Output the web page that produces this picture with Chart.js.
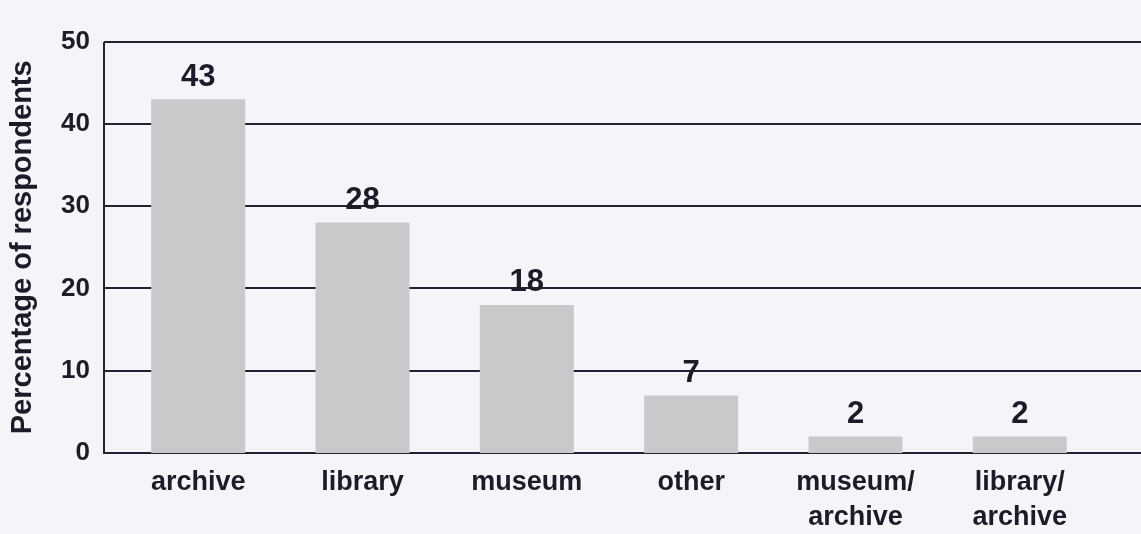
<!DOCTYPE html>
<html>
<head>
<meta charset="utf-8">
<script src="https://cdn.jsdelivr.net/npm/chart.js@4/dist/chart.umd.min.js"></script>
<style>
  html, body { margin: 0; padding: 0; background: #f4f5f8; }
  #wrap { width: 1141px; height: 534px; }
</style>
</head>
<body>
<div id="wrap"><canvas id="myChart"></canvas></div>
<script>
const categories = ["archive", "library", "museum", "other", ["museum/", "archive"], ["library/", "archive"]];
const percentages = [43, 28, 18, 7, 2, 2];
const yTicks = [0, 10, 20, 30, 40, 50];

const ink = "#1c1c28";
const font = "'Liberation Sans', Arial, sans-serif";

// horizontal rules + left axis, drawn under the bars so the bars cut them
const rules = {
  id: "rules",
  beforeDatasetsDraw(chart) {
    const { ctx, scales: { y }, width } = chart;
    const axisX = 104;
    ctx.save();
    ctx.strokeStyle = "#222230";
    ctx.lineWidth = 2;
    yTicks.forEach((v) => {
      const py = Math.round(y.getPixelForValue(v));
      ctx.beginPath();
      ctx.moveTo(axisX, py);
      ctx.lineTo(width, py);
      ctx.stroke();
    });
    ctx.beginPath();
    ctx.moveTo(axisX, Math.round(y.getPixelForValue(50)));
    ctx.lineTo(axisX, Math.round(y.getPixelForValue(0)) + 1);
    ctx.stroke();
    ctx.restore();
  },
};

// value printed above each bar
const valueLabels = {
  id: "valueLabels",
  afterDatasetsDraw(chart) {
    const { ctx } = chart;
    const meta = chart.getDatasetMeta(0);
    ctx.save();
    ctx.font = "bold 31px " + font;
    ctx.fillStyle = ink;
    ctx.textAlign = "center";
    ctx.textBaseline = "middle";
    meta.data.forEach((bar, i) => {
      ctx.fillText(String(percentages[i]), bar.x, bar.y - 22);
    });
    ctx.restore();
  },
};

const canvas = document.querySelector("canvas#myChart");
const chart = new Chart(canvas, {
  type: "bar",
  data: {
    labels: categories,
    datasets: [
      {
        label: "Percentage of respondents",
        data: percentages,
        backgroundColor: "#c9c9cb",
        borderWidth: 0,
        categoryPercentage: 1,
        barPercentage: 0.572,
      },
    ],
  },
  options: {
    responsive: true,
    maintainAspectRatio: false,
    animation: false,
    layout: { padding: { top: 38, right: 39, left: 0, bottom: 0 } },
    plugins: {
      legend: { display: false },
      tooltip: { enabled: false },
    },
    scales: {
      x: {
        grid: { display: false, drawTicks: false },
        border: { display: false },
        ticks: {
          color: ink,
          font: { family: font, size: 27, weight: "bold", lineHeight: 1.3 },
          padding: 12,
          maxRotation: 0,
          autoSkip: false,
        },
        afterFit(scale) {
          scale.height = 81;
        },
      },
      y: {
        min: 0,
        max: 50,
        grid: { display: false, drawTicks: false },
        border: { display: false },
        ticks: {
          stepSize: 10,
          color: ink,
          font: { family: font, size: 26, weight: "bold" },
          padding: 26,
        },
        title: {
          display: true,
          text: "Percentage of respondents",
          color: ink,
          font: { family: font, size: 29, weight: "bold" },
          padding: { top: 6, bottom: 0 },
        },
        afterFit(scale) {
          scale.width = 116;
        },
      },
    },
  },
  plugins: [rules, valueLabels],
});
</script>
</body>
</html>
